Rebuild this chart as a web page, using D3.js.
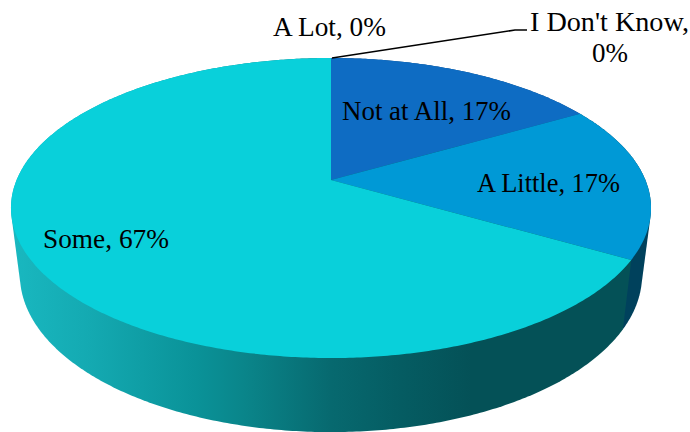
<!DOCTYPE html>
<html>
<head>
<meta charset="utf-8">
<script src="https://cdn.jsdelivr.net/npm/d3@7"></script>
<style>
html,body{margin:0;padding:0;background:#fff;overflow:hidden}
svg{display:block}
text{font-family:"Liberation Serif",serif;font-size:27px;fill:#000}
</style>
</head>
<body>
<svg id="chart" width="690" height="432"></svg>
<script>
const categories = ["Not at All", "A Little", "Some", "A Lot", "I Don't Know"];
const shares = [16.67, 16.67, 66.66, 0, 0];
const faceColors = ["#0e6cc3", "#0099d6", "#09d0da", "#0e6cc3", "#0099d6"];

const svg = d3.select("#chart");
const defs = svg.append("defs");

// perspective projection of a unit disc
const tilt = -0.1867;
const topPlane = {cx:331, cy:180, a:314.4, b:144.8};
const basePlane = {cx:331, cy:245.7, a:305.6, b:151.6};
const project = (plane, angle) => {
  const u = Math.sin(angle), v = -Math.cos(angle), w = 1 + tilt * v;
  return [plane.cx + plane.a * u / w, plane.cy + plane.b * v / w];
};
const rim = (plane, a0, a1) => {
  const n = Math.max(2, Math.ceil(Math.abs(a1 - a0) / 0.01));
  return d3.range(n + 1).map(i => project(plane, a0 + (a1 - a0) * i / n));
};

const arcs = d3.pie().sort(null).value(d => d)(shares);
const line = d3.line().curve(d3.curveLinear);

// side wall shading
const grad = defs.append("linearGradient").attr("id","wallSome")
  .attr("gradientUnits","userSpaceOnUse").attr("x1",11).attr("x2",651).attr("y1",0).attr("y2",0);
[[0,"#19b8c0"],[0.12,"#14aab2"],[0.29,"#0a9298"],[0.37,"#0a8489"],[0.5,"#07696f"],[0.61,"#055c62"],[0.72,"#045157"],[1,"#045157"]]
  .forEach(([o,c]) => grad.append("stop").attr("offset",o).attr("stop-color",c));
const wallColors = ["#0e4a80", "#00415c", "url(#wallSome)", "none", "none"];

// walls, back to front
[0,1,2].forEach(i => {
  const d = arcs[i];
  const hull = d3.polygonHull(rim(topPlane,d.startAngle,d.endAngle).concat(rim(basePlane,d.startAngle,d.endAngle)));
  svg.append("path").attr("d", line(hull) + "Z").attr("fill", wallColors[i]);
});

// top face
svg.selectAll("path.face").data(arcs).join("path").attr("class","face")
  .attr("d", d => line([[topPlane.cx,topPlane.cy], ...rim(topPlane,d.startAngle,d.endAngle)]) + "Z")
  .attr("fill", (d,i) => faceColors[i]);

// leader line
svg.append("polyline").attr("points","332,58 515,30 527,30")
  .attr("fill","none").attr("stroke","#000").attr("stroke-width",1.6);

// labels
const pct = d3.format(".0f");
const labelLayout = [
  {t:`${categories[0]}, ${pct(shares[0])}%`, x:342, y:120, w:169, anchor:"start"},
  {t:`${categories[1]}, ${pct(shares[1])}%`, x:477, y:192, w:143, anchor:"start"},
  {t:`${categories[2]}, ${pct(shares[2])}%`, x:43, y:248, w:126, anchor:"start"},
  {t:`${categories[3]}, ${pct(shares[3])}%`, x:273, y:36, w:113, anchor:"start"},
  {t:`${categories[4]},`, x:530, y:31, w:159, anchor:"start"},
  {t:`${pct(shares[4])}%`, x:592, y:62, w:36, anchor:"start"}
];
labelLayout.forEach(l => {
  svg.append("text").attr("x",l.x).attr("y",l.y).attr("text-anchor",l.anchor)
    .attr("textLength",l.w).attr("lengthAdjust","spacingAndGlyphs").text(l.t);
});
</script>
</body>
</html>
